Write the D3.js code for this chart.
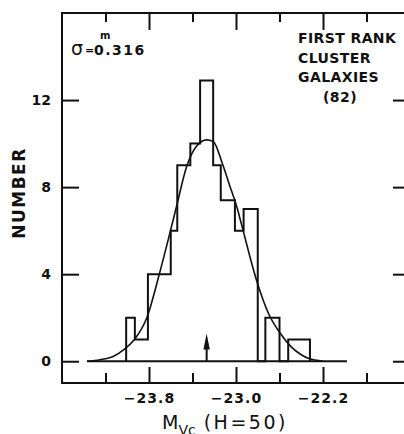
<!DOCTYPE html>
<html><head><meta charset="utf-8">
<script src="https://cdn.jsdelivr.net/npm/d3@7/dist/d3.min.js"></script>
<style>body{margin:0;background:#fff}svg{display:block}</style>
</head><body>
<svg id="c" width="404" height="434"></svg>
<script>
// ---- data ----
const binStart = [-24.01, -23.93, -23.81, -23.60, -23.54, -23.42, -23.33, -23.21, -23.14, -23.01, -22.93, -22.73, -22.52];
const binEnd   = [-23.93, -23.81, -23.60, -23.54, -23.42, -23.33, -23.21, -23.14, -23.01, -22.93, -22.80, -22.60, -22.32];
const counts   = [2, 1, 4, 6, 9, 10, 12.9, 9, 7.4, 6, 7, 2, 1];
const curveX = [-24.37, -24.25, -24.13, -24.04, -23.94, -23.82, -23.70, -23.61, -23.55, -23.45, -23.36, -23.27, -23.21, -23.12, -23.06, -22.99, -22.95, -22.81, -22.70, -22.59, -22.49, -22.40, -22.33, -22.20];
const curveY = [0, 0.07, 0.22, 0.5, 0.96, 2.0, 4.1, 5.85, 7.05, 9.0, 9.9, 10.17, 10.1, 9.0, 8.1, 7.05, 6.3, 3.7, 2.18, 1.26, 0.65, 0.3, 0.12, 0];
const baselineRange = [-24.37, -21.98];
const meanArrow = -23.27, arrowTip = 1.28;
const xMajor = [-23.8, -23.0, -22.2];
const xMinor = [-24.2, -23.4, -22.6, -21.8];
const yTicks = [0, 4, 8, 12];
const legendLines = ["FIRST RANK", "CLUSTER", "GALAXIES", "(82)"];
const sigmaText = "0.316";

const svg = d3.select("#c");
const FONT = "DejaVu Sans";
const xs = d3.scaleLinear().domain([-24.6, -21.4]).range([62, 410]);
const ys = d3.scaleLinear().domain([-1, 16]).range([383, 13]);
const ink = "#111";

function styleAxis(g){
  g.select(".domain").remove();
  g.selectAll("line").attr("stroke", ink).attr("stroke-width", 2);
  g.selectAll("text").attr("font-family", FONT).attr("font-weight", "bold")
    .attr("font-size", 14).attr("fill", ink);
}
// bottom
svg.append("g").attr("transform", `translate(0,${ys(-1)})`)
  .call(d3.axisBottom(xs).tickValues(xMajor).tickSize(-16).tickSizeOuter(0).tickPadding(10).tickFormat(d3.format(".1f")))
  .call(styleAxis).selectAll("text").attr("letter-spacing", 1);
svg.append("g").attr("transform", `translate(0,${ys(-1)})`)
  .call(d3.axisBottom(xs).tickValues(xMinor).tickSize(-10).tickSizeOuter(0).tickFormat(""))
  .call(styleAxis);
// top
svg.append("g").attr("transform", `translate(0,${ys(16)})`)
  .call(d3.axisTop(xs).tickValues(xMajor).tickSize(-17).tickSizeOuter(0).tickFormat(""))
  .call(styleAxis);
svg.append("g").attr("transform", `translate(0,${ys(16)})`)
  .call(d3.axisTop(xs).tickValues(xMinor).tickSize(-9).tickSizeOuter(0).tickFormat(""))
  .call(styleAxis);
// left
svg.append("g").attr("transform", `translate(${xs(-24.6)},0)`)
  .call(d3.axisLeft(ys).tickValues(yTicks).tickSize(-17).tickSizeOuter(0).tickPadding(11))
  .call(styleAxis);
// right
svg.append("g").attr("transform", `translate(${xs(-21.4)},0)`)
  .call(d3.axisRight(ys).tickValues(yTicks).tickSize(-17).tickSizeOuter(0).tickFormat(""))
  .call(styleAxis);

// frame
svg.append("rect").attr("x", xs(-24.6)).attr("y", ys(16))
  .attr("width", xs(-21.4) - xs(-24.6)).attr("height", ys(-1) - ys(16))
  .attr("fill", "none").attr("stroke", ink).attr("stroke-width", 2);

// baseline
svg.append("line").attr("x1", xs(baselineRange[0])).attr("x2", xs(baselineRange[1]))
  .attr("y1", ys(0)).attr("y2", ys(0)).attr("stroke", ink).attr("stroke-width", 2);

// histogram step outline
const pts = [];
binStart.forEach((s, i) => {
  const e = binEnd[i], c = counts[i];
  if (i === 0 || Math.abs(s - binEnd[i - 1]) > 0.02) {
    if (i > 0) pts.push([binEnd[i - 1], 0]);
    pts.push([s, 0]);
  } else {
    s = binEnd[i - 1];
  }
  pts.push([s, c]);
  pts.push([e, c]);
});
pts.push([binEnd[binEnd.length - 1], 0]);
svg.append("path").datum(pts)
  .attr("d", d3.line().x(d => xs(d[0])).y(d => ys(d[1])))
  .attr("fill", "none").attr("stroke", ink).attr("stroke-width", 2).attr("stroke-linejoin", "miter");

// gaussian curve (read points)
svg.append("path").datum(curveX.map((x, i) => [x, curveY[i]]))
  .attr("d", d3.line().x(d => xs(d[0])).y(d => ys(d[1])).curve(d3.curveMonotoneX))
  .attr("fill", "none").attr("stroke", ink).attr("stroke-width", 1.6);

// arrow at mean
const ax = xs(meanArrow);
svg.append("line").attr("x1", ax).attr("x2", ax).attr("y1", ys(0)).attr("y2", ys(arrowTip) + 8)
  .attr("stroke", ink).attr("stroke-width", 2);
svg.append("path")
  .attr("d", `M${ax},${ys(arrowTip)} L${ax - 3.2},${ys(arrowTip) + 16} L${ax + 3.2},${ys(arrowTip) + 16} Z`)
  .attr("fill", ink);

// y title
svg.append("text").attr("transform", `translate(25,193) rotate(-90)`)
  .attr("text-anchor", "middle").attr("font-family", FONT).attr("font-weight", "bold")
  .attr("font-size", 17).attr("letter-spacing", 1.5).attr("fill", ink).text("NUMBER");

// x title
const xt = svg.append("text").attr("x", 162).attr("y", 429)
  .attr("font-family", FONT).attr("font-size", 19).attr("fill", ink);
xt.append("tspan").text("M");
xt.append("tspan").attr("dy", 6).attr("font-size", 14).text("Vc");
xt.append("tspan").attr("dy", -6).attr("dx", 8).attr("letter-spacing", 2.5).text("(H=50)");

// sigma annotation
svg.append("text").attr("x", 71).attr("y", 55).attr("font-family", FONT).attr("font-size", 19)
  .attr("fill", ink).text("σ");
svg.append("text").attr("x", 85).attr("y", 54).attr("font-family", FONT).attr("font-weight", "bold")
  .attr("font-size", 11).attr("fill", ink).text("=");
svg.append("text").attr("x", 94).attr("y", 55).attr("font-family", FONT).attr("font-weight", "bold")
  .attr("font-size", 14).attr("letter-spacing", 1.5).attr("fill", ink).text(sigmaText);
svg.append("text").attr("x", 100).attr("y", 39).attr("font-family", FONT).attr("font-weight", "bold")
  .attr("font-size", 10).attr("fill", ink).text("m");

// legend text
legendLines.forEach((t, i) => {
  const last = i === legendLines.length - 1;
  svg.append("text").attr("x", last ? 340 : 298).attr("y", 43 + i * 19.7)
    .attr("text-anchor", last ? "middle" : "start")
    .attr("font-family", FONT).attr("font-weight", "bold").attr("font-size", 14)
    .attr("letter-spacing", 0.4).attr("fill", ink).text(t);
});
</script>
</body></html>
